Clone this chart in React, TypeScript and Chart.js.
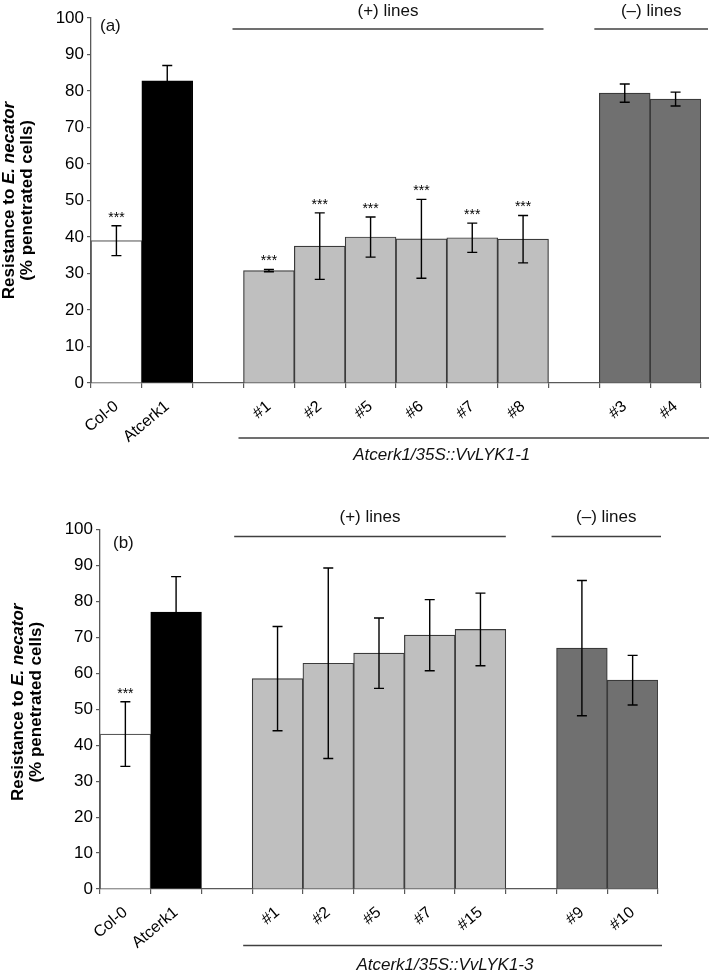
import React, { useEffect, useRef } from "react";
import { Chart, registerables } from "chart.js";

Chart.register(...registerables);

const FONT = '"Liberation Sans", Arial, Helvetica, sans-serif';

// ---------- Panel (a) data ----------
const categoriesA = ["Col-0", "Atcerk1", "", "#1", "#2", "#5", "#6", "#7", "#8", "", "#3", "#4"];
const valuesA = [39.0, 82.8, null, 30.8, 37.5, 40.0, 39.5, 39.8, 39.4, null, 79.4, 77.8];
const errorsA = [4.1, 4.2, null, 0.3, 9.1, 5.5, 10.8, 4.0, 6.5, null, 2.5, 1.9];
const signifA = ["***", "", "", "***", "***", "***", "***", "***", "***", "", "", ""];
const kindsA = ["wt", "mutant", "", "plus", "plus", "plus", "plus", "plus", "plus", "", "minus", "minus"];
const groupLabelsA = ["(+) lines", "(–) lines"];
const groupFromA = [3, 10];
const groupToA = [8, 11];
const constructA = "Atcerk1/35S::VvLYK1-1";

// ---------- Panel (b) data ----------
const categoriesB = ["Col-0", "Atcerk1", "", "#1", "#2", "#5", "#7", "#15", "", "#9", "#10"];
const valuesB = [43.1, 77.0, null, 58.5, 62.8, 65.6, 70.6, 72.2, null, 67.0, 58.1];
const errorsB = [9.0, 9.9, null, 14.5, 26.5, 9.8, 9.9, 10.1, null, 18.8, 6.9];
const signifB = ["***", "", "", "", "", "", "", "", "", "", ""];
const kindsB = ["wt", "mutant", "", "plus", "plus", "plus", "plus", "plus", "", "minus", "minus"];
const groupLabelsB = ["(+) lines", "(–) lines"];
const groupFromB = [3, 9];
const groupToB = [7, 10];
const constructB = "Atcerk1/35S::VvLYK1-3";

// shared axis ticks
const yTickValues = [0, 10, 20, 30, 40, 50, 60, 70, 80, 90, 100];
const yTitleLine1 = [
  { text: "Resistance to ", italic: false },
  { text: "E. necator", italic: true },
];
const yTitleLine2 = [{ text: "(% penetrated cells)", italic: false }];

const FILL: Record<string, string> = {
  wt: "#ffffff",
  mutant: "#000000",
  plus: "#bfbfbf",
  minus: "#707070",
};
const BORDER: Record<string, string> = {
  wt: "#595959",
  mutant: "#000000",
  plus: "#3a3a3a",
  minus: "#3a3a3a",
};

const panelA = {
  letter: "(a)",
  categories: categoriesA,
  values: valuesA,
  errors: errorsA,
  signif: signifA,
  kinds: kindsA,
  groupLabels: groupLabelsA,
  groupFrom: groupFromA,
  groupTo: groupToA,
  construct: constructA,
  layout: {
    height: 490,
    yWidth: 91,
    xHeight: 107,
    padTop: 18,
    padRight: 8,
    groupPadL: [-11, -5],
    groupPadR: [-5, 7],
    groupLineDy: 11,
    groupTextDy: -7,
    constructFrom: 3,
    constructPadL: -5,
    constructRight: 709,
    constructLineDy: 55,
    constructTextDy: 72,
    constructTextIndex: 6.4,
    letterDx: 9,
    letterDy: 8,
    titleX1: 9,
    titleX2: 27,
    titleDy: 0,
  },
};

const panelB = {
  letter: "(b)",
  categories: categoriesB,
  values: valuesB,
  errors: errorsB,
  signif: signifB,
  kinds: kindsB,
  groupLabels: groupLabelsB,
  groupFrom: groupFromB,
  groupTo: groupToB,
  construct: constructB,
  layout: {
    height: 486,
    yWidth: 100,
    xHeight: 87,
    padTop: 39.5,
    padRight: 51,
    groupPadL: [-18, -5],
    groupPadR: [0, 3],
    groupLineDy: 7,
    groupTextDy: -12,
    constructFrom: 3,
    constructPadL: -9,
    constructRight: 662,
    constructLineDy: 56.5,
    constructTextDy: 76,
    constructTextIndex: 6.3,
    letterDx: 13,
    letterDy: 13.5,
    titleX1: 18,
    titleX2: 36,
    titleDy: -7,
  },
};

function drawSegments(ctx: CanvasRenderingContext2D, segs: { text: string; italic: boolean }[], cx: number, cy: number, size: number) {
  const fontOf = (it: boolean) => `${it ? "italic " : ""}bold ${size}px ${FONT}`;
  let total = 0;
  const widths = segs.map((s) => {
    ctx.font = fontOf(s.italic);
    const w = ctx.measureText(s.text).width;
    total += w;
    return w;
  });
  let x = cx - total / 2;
  segs.forEach((s, i) => {
    ctx.font = fontOf(s.italic);
    ctx.fillText(s.text, x, cy);
    x += widths[i];
  });
}

const annotate = {
  id: "annotate",
  afterDatasetsDraw(chart: any, _args: any, opts: any) {
    const xs = chart.scales.x;
    const ys = chart.scales.y;
    const ctx: CanvasRenderingContext2D = chart.ctx;
    ctx.save();
    opts.values.forEach((v: number | null, i: number) => {
      if (v == null) return;
      const e = opts.errors[i] ?? 0;
      const px = xs.getPixelForValue(i);
      const top = ys.getPixelForValue(v + e);
      const bot = ys.getPixelForValue(v - e);
      ctx.strokeStyle = "#000";
      ctx.lineWidth = 1.4;
      ctx.beginPath();
      ctx.moveTo(px, top);
      ctx.lineTo(px, bot);
      ctx.moveTo(px - 5, top);
      ctx.lineTo(px + 5, top);
      ctx.moveTo(px - 5, bot);
      ctx.lineTo(px + 5, bot);
      ctx.stroke();
      const s = opts.signif[i];
      if (s) {
        ctx.fillStyle = "#000";
        ctx.font = `14px ${FONT}`;
        ctx.textAlign = "center";
        ctx.textBaseline = "alphabetic";
        ctx.fillText(s, px, top - 4);
      }
    });
    ctx.restore();
  },
  afterDraw(chart: any, _args: any, opts: any) {
    const xs = chart.scales.x;
    const ca = chart.chartArea;
    const L = opts.layout;
    const ctx: CanvasRenderingContext2D = chart.ctx;
    const step = xs.getPixelForValue(1) - xs.getPixelForValue(0);
    ctx.save();
    ctx.fillStyle = "#111";
    ctx.strokeStyle = "#404040";
    ctx.lineWidth = 1.3;

    // group lines and labels at top
    opts.groupLabels.forEach((lab: string, g: number) => {
      const left = xs.getPixelForValue(opts.groupFrom[g]) - step / 2 + L.groupPadL[g];
      const right = xs.getPixelForValue(opts.groupTo[g]) + step / 2 + L.groupPadR[g];
      const ly = ca.top + L.groupLineDy;
      ctx.beginPath();
      ctx.moveTo(left, ly);
      ctx.lineTo(right, ly);
      ctx.stroke();
      ctx.font = `17px ${FONT}`;
      ctx.textAlign = "center";
      ctx.textBaseline = "middle";
      ctx.fillText(lab, (left + right) / 2, ca.top + L.groupTextDy);
    });

    // construct line and label at bottom
    const cl = xs.getPixelForValue(L.constructFrom) - step / 2 + L.constructPadL;
    const cy = ca.bottom + L.constructLineDy;
    ctx.beginPath();
    ctx.moveTo(cl, cy);
    ctx.lineTo(L.constructRight, cy);
    ctx.stroke();
    ctx.font = `italic 17px ${FONT}`;
    ctx.textAlign = "center";
    ctx.textBaseline = "middle";
    const tx = xs.getPixelForValue(0) + L.constructTextIndex * step;
    ctx.fillText(opts.construct, tx, ca.bottom + L.constructTextDy);

    // panel letter
    ctx.font = `17px ${FONT}`;
    ctx.textAlign = "left";
    ctx.fillText(opts.letter, ca.left + L.letterDx, ca.top + L.letterDy);

    // y title
    ctx.fillStyle = "#000";
    ctx.textAlign = "left";
    ctx.textBaseline = "middle";
    const midY = (ca.top + ca.bottom) / 2 + L.titleDy;
    ctx.save();
    ctx.translate(L.titleX1, midY);
    ctx.rotate(-Math.PI / 2);
    drawSegments(ctx, yTitleLine1, 0, 0, 17);
    ctx.restore();
    ctx.save();
    ctx.translate(L.titleX2, midY);
    ctx.rotate(-Math.PI / 2);
    drawSegments(ctx, yTitleLine2, 0, 0, 17);
    ctx.restore();

    ctx.restore();
  },
};

function Panel({ cfg }: { cfg: any }) {
  const ref = useRef<HTMLCanvasElement>(null);
  useEffect(() => {
    const L = cfg.layout;
    const chart = new Chart(ref.current as HTMLCanvasElement, {
      type: "bar",
      data: {
        labels: cfg.categories,
        datasets: [
          {
            data: cfg.values,
            backgroundColor: cfg.kinds.map((k: string) => FILL[k] || "transparent"),
            borderColor: cfg.kinds.map((k: string) => BORDER[k] || "transparent"),
            borderWidth: 1.2,
            barPercentage: 1,
            categoryPercentage: 1,
          },
        ],
      },
      options: {
        responsive: false,
        animation: false,
        devicePixelRatio: 1,
        layout: { padding: { top: L.padTop, right: L.padRight, left: 0, bottom: 0 } },
        plugins: {
          legend: { display: false },
          tooltip: { enabled: false },
          annotate: cfg,
        } as any,
        scales: {
          x: {
            offset: true,
            grid: {
              display: true,
              offset: true,
              drawOnChartArea: false,
              drawTicks: true,
              tickLength: 5,
              color: "#595959",
              lineWidth: 1.2,
            },
            border: { display: true, color: "#595959", width: 1.3 },
            ticks: {
              autoSkip: false,
              minRotation: 40,
              maxRotation: 40,
              padding: 9,
              color: "#000",
              font: { family: FONT, size: 16 },
            },
            afterFit: (s: any) => {
              s.height = L.xHeight;
            },
          },
          y: {
            min: 0,
            max: 100,
            afterBuildTicks: (s: any) => {
              s.ticks = yTickValues.map((v) => ({ value: v }));
            },
            grid: {
              drawOnChartArea: false,
              drawTicks: true,
              tickLength: 4,
              color: "#595959",
              lineWidth: 1.2,
            },
            border: { display: true, color: "#595959", width: 1.3 },
            ticks: {
              padding: 3,
              color: "#000",
              font: { family: FONT, size: 17 },
            },
            afterFit: (s: any) => {
              s.width = L.yWidth;
            },
          },
        },
      } as any,
      plugins: [annotate as any],
    });
    return () => chart.destroy();
  }, [cfg]);
  return (
    <canvas
      ref={ref}
      width={709}
      height={cfg.layout.height}
      style={{ display: "block", width: 709, height: cfg.layout.height }}
    />
  );
}

export default function App() {
  return (
    <div style={{ position: "absolute", left: 0, top: 0, width: 709, height: 976, background: "#fff" }}>
      <Panel cfg={panelA} />
      <Panel cfg={panelB} />
    </div>
  );
}
